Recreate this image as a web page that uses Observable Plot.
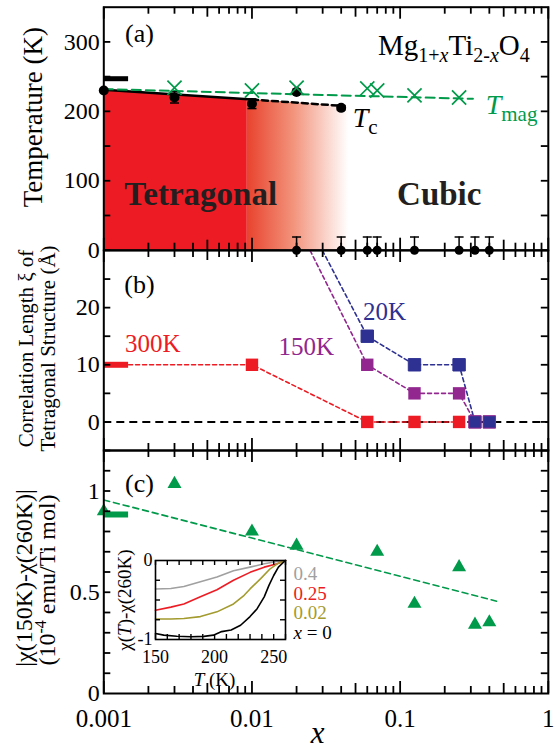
<!DOCTYPE html>
<html><head><meta charset="utf-8">
<script src="https://cdn.jsdelivr.net/npm/d3@7"></script>
<script src="https://cdn.jsdelivr.net/npm/@observablehq/plot@0.6"></script>
<style>
html,body{margin:0;padding:0;background:#fff;}
#chart{position:relative;width:555px;height:752px;overflow:hidden;background:#fff;}
#chart > svg{position:absolute;}
</style></head><body><div id="chart"></div>
<script>
// ---------------- DATA ----------------
// (a) structural transition Tc
const tcX   = [0.001, 0.003, 0.01, 0.02, 0.04];
const tcT   = [230, 220, 211, 228, 205];
const tcErr = [0, 8, 7, 0, 3];
const tcSolidX = [0.001, 0.01],  tcSolidT = [231, 217];
const tcDashX  = [0.01, 0.04],   tcDashT  = [217, 208];
// (a) magnetic transition Tmag
const tmagX = [0.003, 0.01, 0.02, 0.06, 0.07, 0.125, 0.25];
const tmagT = [234, 230, 234, 233, 230, 223, 220];
const tmagFitX = [0.001, 0.31], tmagFitT = [232, 218];
// (a) samples without transition (T = 0, upper bar)
const noTransX = [0.02, 0.04, 0.06, 0.07, 0.125, 0.25, 0.32, 0.4];
const noTransUp = 19;
// (a) x = 0 marker bar
const barX = [0.001, 0.00147];
const barT = 247;
// (a) tetragonal region
const tetraSolidX = [0.001, 0.0093], tetraSolidT = [231, 217.5];
const tetraFadeX  = [0.0093, 0.01, 0.045], tetraFadeT = [217.5, 217, 207.3];

// (b) correlation length
const xi300X = [0.01, 0.06, 0.125, 0.25],           xi300 = [10, 0, 0, 0];
const xi150X = [0.06, 0.125, 0.25, 0.32, 0.4],      xi150 = [10, 5, 5, 0, 0];
const xi20X  = [0.06, 0.125, 0.25, 0.32, 0.4],      xi20  = [15, 10, 10, 0, 0];
const xi300LineX = [0.00147, 0.01, 0.06, 0.125, 0.25], xi300Line = [10, 10, 0, 0, 0];
const xi150LineX = [0.0247, 0.06, 0.125, 0.25, 0.32], xi150Line = [30, 10, 5, 5, 0];
const xi20LineX  = [0.0299, 0.06, 0.125, 0.25, 0.32, 0.4], xi20Line = [30, 15, 10, 10, 0, 0];
const xiBar = 10;

// (c) susceptibility difference
const chiX = [0.001, 0.003, 0.01, 0.02, 0.07, 0.125, 0.25, 0.32, 0.4];
const chiV = [0.90, 1.035, 0.80, 0.73, 0.70, 0.443, 0.624, 0.34, 0.352];
const chiFitX = [0.001, 0.448], chiFitV = [0.956, 0.456];
const chiBar = 0.884;

// inset: chi(T) - chi(260K)
const gT = [150, 163, 174, 188, 202, 216, 230, 242, 253, 260];
const gV = [-0.36, -0.355, -0.33, -0.27, -0.21, -0.13, -0.084, -0.042, -0.013, 0];
const rT = [150, 163, 174, 188, 202, 216, 230, 242, 253, 260];
const rV = [-0.63, -0.59, -0.55, -0.46, -0.37, -0.25, -0.15, -0.084, -0.042, 0];
const oT = [150, 163, 174, 188, 202, 216, 225, 230, 239, 247, 254, 260];
const oV = [-0.74, -0.74, -0.735, -0.71, -0.65, -0.55, -0.44, -0.36, -0.23, -0.105, -0.034, 0];
const kT = [150, 157, 168, 180, 191, 199, 206, 214, 222, 230, 236, 242, 246, 250, 254, 259, 260];
const kV = [-0.924, -0.945, -0.958, -0.966, -0.96, -0.945, -0.9, -0.88, -0.82, -0.71, -0.61, -0.46, -0.315, -0.19, -0.084, -0.013, 0];
const insetLabels = ["0.4", "0.25", "0.02", "x = 0"];
const insetLabelV = [-0.168, -0.42, -0.665, -0.915];

// ticks
const xMajorTicks = [0.001, 0.01, 0.1, 1];
const xMidTicks = [0.005, 0.05, 0.5];
const xMinorTicks = [0.001, 0.01, 0.1].flatMap(d => [2, 3, 4, 6, 7, 8, 9].map(m => +(m * d).toPrecision(3)));
const aLabels = [0, 100, 200, 300], aTicks = [0, 50, 100, 150, 200, 250, 300];
const bLabels = [0, 10, 20], bTicks = [-5, 0, 5, 10, 15, 20, 25];
const cLabels = [0, 0.5, 1], cTicks = [0.1, 0.2, 0.3, 0.4, 0.5, 0.6, 0.7, 0.8, 0.9, 1.0, 1.1];

// ---------------- STYLE ----------------
const RED = "#ed1c24", GREEN = "#009a4a", BLUE = "#2e3192", PURPLE = "#92278f";
const GRAY = "#a0a0a0", OLIVE = "#a39b2e";
const FONT = "'Liberation Serif','Times New Roman',Times,serif";
const ML = 103.3, MR = 7.2, FW = 555 - ML - MR;
const zip = (xs, ys) => xs.map((x, i) => ({x, y: ys[i]}));
const capSym = {draw(ctx, size) { const r = Math.sqrt(size / Math.PI); ctx.moveTo(-r, 0); ctx.lineTo(r, 0); }};
const vlabel = (txt, dx, dy, fontSize) => Plot.text([txt], {frameAnchor: "left", textAnchor: "middle", lineAnchor: "middle", rotate: -90, dx, dy, fontSize});

function xTickMarks(H) {
  const out = [];
  for (const [vals, L] of [[xMinorTicks, 7], [xMidTicks, 10], [xMajorTicks, 12]]) {
    out.push(Plot.tickX(vals, {insetTop: H - L, strokeWidth: 1.8}));
    out.push(Plot.tickX(vals, {insetBottom: H - L, strokeWidth: 1.8}));
  }
  return out;
}
function yTickMarks(vals, L = 7) {
  return [Plot.tickY(vals, {insetRight: FW - L, strokeWidth: 1.8}),
          Plot.tickY(vals, {insetLeft: FW - L, strokeWidth: 1.8})];
}
function panel(height, mt, mb, y, marks) {
  return Plot.plot({
    width: 555, height, marginLeft: ML, marginRight: MR, marginTop: mt, marginBottom: mb,
    x: {type: "log", domain: [0.001, 1], axis: null},
    y: {...y, axis: null},
    style: {fontFamily: FONT, fontSize: "24px", background: "transparent", overflow: "visible", color: "black"},
    marks
  });
}
function rich(svg, plain, html) {
  svg.querySelectorAll("text").forEach(t => { if (t.textContent === plain) t.innerHTML = html; });
}

// ---------------- PANEL A ----------------
const tcData = tcX.map((x, i) => ({x, y: tcT[i], e: tcErr[i]}));
const tcErrData = tcData.filter(d => d.e > 0);
const HA = 243;
const svgA = panel(260, 6.7, 10.3, {domain: [0, 350]}, [
  Plot.areaY(zip(tetraSolidX, tetraSolidT), {x: "x", y: "y", fill: RED}),
  Plot.areaY(zip(tetraFadeX, tetraFadeT), {x: "x", y: "y", fill: "url(#fadeRed)"}),
  Plot.line(zip(tcSolidX, tcSolidT), {x: "x", y: "y", stroke: "black", strokeWidth: 2.5}),
  Plot.line(zip(tcDashX, tcDashT), {x: "x", y: "y", stroke: "black", strokeWidth: 2.5, strokeDasharray: "6,4"}),
  Plot.line(zip(tmagFitX, tmagFitT), {x: "x", y: "y", stroke: GREEN, strokeWidth: 2, strokeDasharray: "9,5"}),
  Plot.ruleY([barT], {x1: barX[0], x2: barX[1], stroke: "black", strokeWidth: 5}),
  Plot.ruleX(tcErrData, {x: "x", y1: d => d.y - d.e, y2: d => d.y + d.e, strokeWidth: 1.5}),
  Plot.dot(tcErrData, {x: "x", y: d => d.y + d.e, symbol: capSym, r: 4.5, stroke: "black", fill: "none", strokeWidth: 1.5}),
  Plot.dot(tcErrData, {x: "x", y: d => d.y - d.e, symbol: capSym, r: 4.5, stroke: "black", fill: "none", strokeWidth: 1.5}),
  Plot.dot(tcData, {x: "x", y: "y", r: 5, fill: "black"}),
  Plot.dot(zip(tmagX, tmagT), {x: "x", y: "y", symbol: "times", r: 6.5, stroke: GREEN, strokeWidth: 1.7}),
  Plot.ruleX(noTransX, {x: d => d, y1: 0, y2: noTransUp, strokeWidth: 1.5}),
  Plot.dot(noTransX, {x: d => d, y: noTransUp, symbol: capSym, r: 4.5, stroke: "black", fill: "none", strokeWidth: 1.5}),
  Plot.dot(noTransX, {x: d => d, y: 0, r: 4.5, fill: "black"}),
  Plot.text(["(a)"], {x: 0.00174, y: 312, fontSize: 26}),
  Plot.text(["Mg1+xTi2-xO4"], {x: 0.75, y: 295, textAnchor: "end", fontSize: 29}),
  Plot.text(["Tc"], {x: 0.0478, y: 190, textAnchor: "start", fontSize: 28}),
  Plot.text(["Tmag"], {x: 0.378, y: 209, textAnchor: "start", fontSize: 28, fill: GREEN}),
  Plot.text(["Tetragonal"], {x: 0.00451, y: 81, fontSize: 33, fontWeight: "bold", fill: "#231f20"}),
  Plot.text(["Cubic"], {x: 0.1836, y: 81, fontSize: 33, fontWeight: "bold", fill: "#231f20"}),
  Plot.frame({strokeWidth: 2}),
  ...xTickMarks(HA),
  ...yTickMarks(aTicks),
  Plot.axisY({ticks: aLabels, tickSize: 0, tickPadding: 4, fontSize: 24, label: null, tickFormat: d => String(d)}),
  vlabel("Temperature (K)", -70, -11.5, 27)
]);
const defs = document.createElementNS("http://www.w3.org/2000/svg", "defs");
defs.innerHTML = '<linearGradient id="fadeRed" x1="0" x2="1" y1="0" y2="0">' +
  '<stop offset="0" stop-color="#e8432e"/><stop offset="0.45" stop-color="#f2927a"/><stop offset="1" stop-color="#ffffff"/></linearGradient>';
svgA.prepend(defs);
rich(svgA, "Mg1+xTi2-xO4",
  'Mg<tspan font-size="20" dy="7">1+</tspan><tspan font-size="20" font-style="italic">x</tspan>' +
  '<tspan dy="-7">Ti</tspan><tspan font-size="20" dy="7">2-</tspan><tspan font-size="20" font-style="italic">x</tspan>' +
  '<tspan dy="-7">O</tspan><tspan font-size="20" dy="7">4</tspan>');
rich(svgA, "Tc", '<tspan font-style="italic">T</tspan><tspan font-size="21" dy="7">c</tspan>');
rich(svgA, "Tmag", '<tspan font-style="italic">T</tspan><tspan font-size="21" dy="7">mag</tspan>');

// ---------------- PANEL B ----------------
const HB = 200;
const svgB = panel(220, 10, 10, {domain: [-5, 30]}, [
  Plot.ruleY([0], {stroke: "black", strokeWidth: 2, strokeDasharray: "8,5"}),
  Plot.ruleY([xiBar], {x1: barX[0], x2: barX[1], stroke: RED, strokeWidth: 6}),
  Plot.line(zip(xi300LineX, xi300Line), {x: "x", y: "y", stroke: RED, strokeWidth: 1.6, strokeDasharray: "4,3"}),
  Plot.line(zip(xi150LineX, xi150Line), {x: "x", y: "y", stroke: PURPLE, strokeWidth: 1.6, strokeDasharray: "4,3"}),
  Plot.line(zip(xi20LineX, xi20Line), {x: "x", y: "y", stroke: BLUE, strokeWidth: 1.6, strokeDasharray: "4,3"}),
  Plot.dot(zip(xi300X, xi300), {x: "x", y: "y", symbol: "square", r: 7, fill: RED}),
  Plot.dot(zip(xi150X, xi150), {x: "x", y: "y", symbol: "square", r: 7, fill: PURPLE}),
  Plot.dot(zip(xi20X, xi20), {x: "x", y: "y", symbol: "square", r: 7, fill: BLUE, stroke: d => d.y === 0 ? PURPLE : BLUE, strokeWidth: 1}),
  Plot.text(["(b)"], {x: 0.00174, y: 24.1, fontSize: 26}),
  Plot.text(["300K"], {x: 0.00214, y: 13.7, fontSize: 25, fill: RED}),
  Plot.text(["150K"], {x: 0.0233, y: 13.1, fontSize: 25, fill: PURPLE}),
  Plot.text(["20K"], {x: 0.0785, y: 19.2, fontSize: 25, fill: BLUE}),
  Plot.frame({strokeWidth: 2}),
  ...xTickMarks(HB),
  ...yTickMarks(bTicks),
  Plot.axisY({ticks: bLabels, tickSize: 0, tickPadding: 4, fontSize: 24, label: null, tickFormat: d => String(d)}),
  vlabel("Correlation Length ξ of", -78, -2, 21),
  vlabel("Tetragonal Structure (Å)", -56, -2, 21)
]);

// ---------------- PANEL C ----------------
const HC = 243;
const svgC = panel(312, 10, 59, {domain: [0, 1.2]}, [
  Plot.line(zip(chiFitX, chiFitV), {x: "x", y: "y", stroke: GREEN, strokeWidth: 1.6, strokeDasharray: "6,4"}),
  Plot.ruleY([chiBar], {x1: barX[0], x2: barX[1], stroke: GREEN, strokeWidth: 6}),
  Plot.dot(zip(chiX, chiV), {x: "x", y: "y", symbol: "triangle", r: 5.2, fill: GREEN}),
  Plot.text(["(c)"], {x: 0.00174, y: 1.035, fontSize: 26}),
  Plot.frame({strokeWidth: 2}),
  ...xTickMarks(HC),
  ...yTickMarks(cTicks),
  Plot.axisY({ticks: cLabels, tickSize: 0, tickPadding: 4, fontSize: 24, label: null, tickFormat: d => String(d)}),
  Plot.axisX({ticks: xMajorTicks, tickSize: 0, tickPadding: 16, fontSize: 25, label: null, tickFormat: d => String(d)}),
  Plot.text(["x"], {frameAnchor: "bottom", lineAnchor: "middle", dx: -8.5, dy: 40, fontSize: 31, fontStyle: "italic"}),
  vlabel("|χ(150K)-χ(260K)|", -79, 6, 24),
  vlabel("(10-4 emu/Ti mol)", -56, 8, 24)
]);
rich(svgC, "(10-4 emu/Ti mol)", '(10<tspan font-size="16" dy="-9">-4</tspan><tspan dy="9"> emu/Ti mol)</tspan>');

// ---------------- INSET ----------------
const IH = 79, IW = 130;
const insetTicksX = d3.range(150, 261, 10);
const insetTicksY = [-0.75, -0.5, -0.25];
const insetColors = [GRAY, RED, OLIVE, "black"];
const svgI = Plot.plot({
  width: 250, height: 140, marginLeft: 60, marginRight: 60, marginTop: 15, marginBottom: 46,
  x: {domain: [150, 260], axis: null},
  y: {domain: [-1, 0], axis: null},
  style: {fontFamily: FONT, fontSize: "19px", background: "transparent", overflow: "visible", color: "black"},
  marks: [
    Plot.line(zip(gT, gV), {x: "x", y: "y", stroke: GRAY, strokeWidth: 1.6}),
    Plot.line(zip(rT, rV), {x: "x", y: "y", stroke: RED, strokeWidth: 1.6}),
    Plot.line(zip(oT, oV), {x: "x", y: "y", stroke: OLIVE, strokeWidth: 1.6}),
    Plot.line(zip(kT, kV), {x: "x", y: "y", stroke: "black", strokeWidth: 1.6}),
    Plot.frame({strokeWidth: 1.6}),
    Plot.tickX(insetTicksX, {insetTop: IH - 5, strokeWidth: 1.4}),
    Plot.tickX(insetTicksX, {insetBottom: IH - 5, strokeWidth: 1.4}),
    Plot.tickY(insetTicksY, {insetRight: IW - 5, strokeWidth: 1.4}),
    Plot.tickY(insetTicksY, {insetLeft: IW - 5, strokeWidth: 1.4}),
    Plot.axisY({ticks: [-1, 0], tickSize: 0, tickPadding: 3, fontSize: 18, label: null, tickFormat: d => String(d)}),
    Plot.axisX({ticks: [150, 200, 250], tickSize: 0, tickPadding: 11, fontSize: 18, label: null, tickFormat: d => String(d)}),
    Plot.text(["T (K)"], {frameAnchor: "bottom", lineAnchor: "middle", dx: -6, dy: 40, fontSize: 19}),
    vlabel("χ(T)-χ(260K)", -31, 0, 19),
    ...insetLabels.map((t, i) => Plot.text([t], {x: 266.8, y: insetLabelV[i], textAnchor: "start", fontSize: 19, fill: insetColors[i]}))
  ]
});
rich(svgI, "T (K)", '<tspan font-style="italic">T</tspan> (K)');
rich(svgI, "χ(T)-χ(260K)", 'χ(<tspan font-style="italic">T</tspan>)-χ(260K)');
rich(svgI, "x = 0", '<tspan font-style="italic">x</tspan> = 0');

// ---------------- LAYOUT ----------------
const chart = document.getElementById("chart");
const place = (svg, left, top) => { svg.style.left = left + "px"; svg.style.top = top + "px"; chart.appendChild(svg); };
place(svgA, 0, 0);
place(svgB, 0, 240);
place(svgC, 0, 440);
place(svgI, 95, 545);
</script></body></html>
